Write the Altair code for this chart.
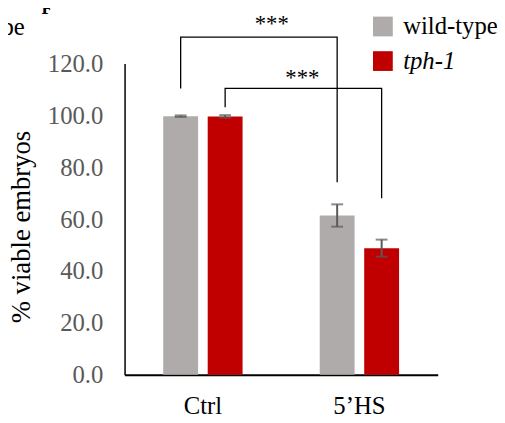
import altair as alt
import pandas as pd

groups = ["Ctrl", "5\u2019HS"]
genotypes = ["wild-type", "tph-1"]
mean_wt = [99.7, 61.4]
mean_tph = [99.6, 48.8]
err_wt = [0.3, 4.3]
err_tph = [0.5, 3.3]
colors = ["#AFABAB", "#C00000"]

# significance brackets: (bracket id, group, genotype, y, order)
br_id = [1, 1, 1, 1, 2, 2, 2, 2]
br_group = ["Ctrl", "Ctrl", "5\u2019HS", "5\u2019HS", "Ctrl", "Ctrl", "5\u2019HS", "5\u2019HS"]
br_geno = ["wild-type", "wild-type", "wild-type", "wild-type", "tph-1", "tph-1", "tph-1", "tph-1"]
br_y = [110.4, 130.2, 130.2, 74.2, 103.1, 110.4, 110.4, 68.1]
br_order = [0, 1, 2, 3, 0, 1, 2, 3]
star_labels = ["***", "***"]
star_y = [132.4, 111.9]
star_x = [149, 180]

rows = []
for i, g in enumerate(groups):
    rows.append({"group": g, "genotype": genotypes[0], "mean": mean_wt[i],
                 "lo": mean_wt[i] - err_wt[i], "hi": mean_wt[i] + err_wt[i]})
    rows.append({"group": g, "genotype": genotypes[1], "mean": mean_tph[i],
                 "lo": mean_tph[i] - err_tph[i], "hi": mean_tph[i] + err_tph[i]})
df = pd.DataFrame(rows)
br = pd.DataFrame({"id": br_id, "group": br_group, "genotype": br_geno, "y": br_y, "order": br_order})
stars = pd.DataFrame({"label": star_labels, "y": star_y, "px": star_x})

FONT = "'Liberation Serif', 'Times New Roman', 'DejaVu Serif', serif"

xenc = alt.X("group:N", sort=groups, title=None,
             scale=alt.Scale(paddingInner=0.493, paddingOuter=0.247),
             axis=alt.Axis(labelAngle=0, labelFont=FONT, labelFontSize=25, labelColor="black",
                           labelPadding=19, ticks=False, domainColor="black", domainWidth=2))
xoff = alt.XOffset("genotype:N", sort=genotypes, scale=alt.Scale(paddingInner=0.216, paddingOuter=0))
yscale = alt.Scale(domain=[0, 120])

bars = alt.Chart(df).mark_bar().encode(
    x=xenc,
    xOffset=xoff,
    y=alt.Y("mean:Q", scale=yscale, title="% viable embryos",
            axis=alt.Axis(values=[0, 20, 40, 60, 80, 100, 120], format=".1f", grid=False, ticks=False,
                          labelFont=FONT, labelFontSize=25, labelColor="#595959", labelPadding=22,
                          titleFont=FONT, titleFontSize=27, titleFontWeight="normal", titleColor="black",
                          titlePadding=12, titleY=165, domainColor="black", domainWidth=1.5)),
    color=alt.Color("genotype:N", sort=genotypes, title=None,
                    scale=alt.Scale(domain=genotypes, range=colors),
                    legend=alt.Legend(orient="none", legendX=249, legendY=-50, symbolType="square",
                                      symbolSize=400, symbolStrokeWidth=0, labelFont=FONT,
                                      labelFontSize=25, labelColor="black", labelOffset=8,
                                      rowPadding=9, padding=0, labelLimit=200,
                                      labelFontStyle=alt.ExprRef(
                                          expr="datum.label === 'tph-1' ? 'italic' : 'normal'"))),
)

ebar = alt.Chart(df).mark_rule(color="#595959", strokeWidth=2).encode(
    x=alt.X("group:N", sort=groups), xOffset=alt.XOffset("genotype:N", sort=genotypes),
    y=alt.Y("lo:Q", scale=yscale), y2="hi:Q")
cap_lo = alt.Chart(df).mark_tick(color="#595959", thickness=2, size=12).encode(
    x=alt.X("group:N", sort=groups), xOffset=alt.XOffset("genotype:N", sort=genotypes),
    y=alt.Y("lo:Q", scale=yscale))
cap_hi = alt.Chart(df).mark_tick(color="#595959", thickness=2, size=12).encode(
    x=alt.X("group:N", sort=groups), xOffset=alt.XOffset("genotype:N", sort=genotypes),
    y=alt.Y("hi:Q", scale=yscale))

brackets = alt.Chart(br).mark_line(color="black", strokeWidth=1.3).encode(
    x=alt.X("group:N", sort=groups), xOffset=alt.XOffset("genotype:N", sort=genotypes),
    y=alt.Y("y:Q", scale=yscale), detail="id:N", order="order:Q")

star_text = alt.Chart(stars).mark_text(font=FONT, fontSize=23, color="black", align="center",
                                       baseline="alphabetic").encode(
    x=alt.X("px:Q", scale=None), y=alt.Y("y:Q", scale=yscale), text="label:N")

panel = alt.Chart(pd.DataFrame({"t": ["F"]})).mark_text(
    font=FONT, fontSize=18, fontWeight="bold", color="black", align="left", baseline="alphabetic"
).encode(x=alt.value(-84), y=alt.value(-50), text="t:N")
other = alt.Chart(pd.DataFrame({"t": ["wild-type"]})).mark_text(
    font=FONT, fontSize=25, color="black", align="right", baseline="alphabetic"
).encode(x=alt.value(-101), y=alt.value(-29), text="t:N")

chart = alt.layer(bars, ebar, cap_lo, cap_hi, brackets, star_text, panel, other).properties(
    width=317, height=315,
    autosize=alt.AutoSizeParams(type="none"),
    padding={"left": 118, "top": 53.7, "right": 60, "bottom": 44},
).configure(font=FONT).configure_view(stroke=None).configure_axis(
    labelFont=FONT, titleFont=FONT).configure_legend(labelFont=FONT, titleFont=FONT)

chart.save("out.html", embed_options={"renderer": "svg", "actions": False})
